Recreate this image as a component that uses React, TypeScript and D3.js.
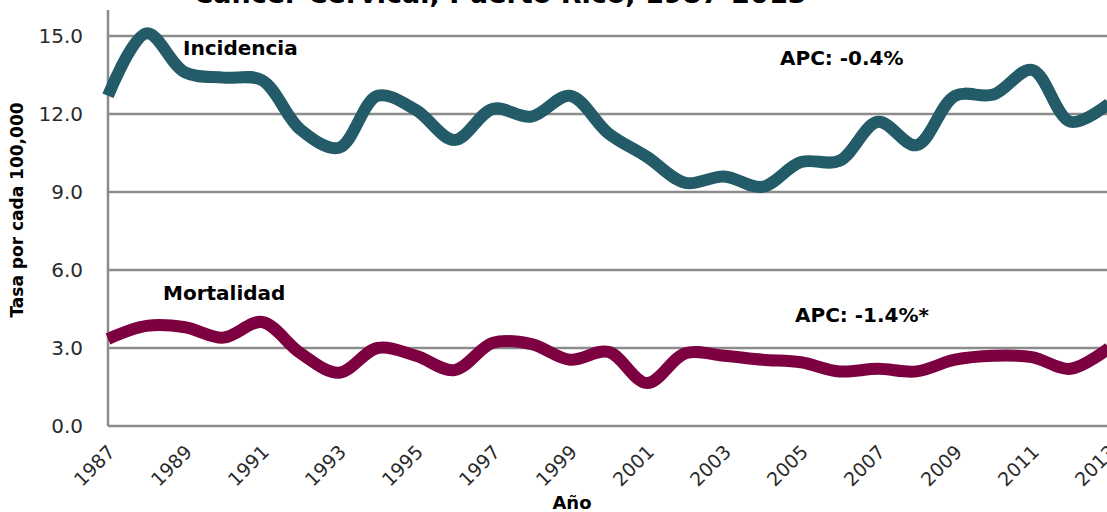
import { useMemo } from "react";
import * as d3 from "d3";

const years = d3.range(1987, 2014);
const incidencia = [
  12.7, 15.1, 13.6, 13.4, 13.3, 11.4, 10.7, 12.7, 12.15, 11.0, 12.2, 11.9, 12.7,
  11.25, 10.35, 9.35, 9.6, 9.2, 10.15, 10.2, 11.7, 10.8, 12.7, 12.75, 13.7, 11.7, 12.4,
];
const mortalidad = [
  3.35, 3.85, 3.8, 3.4, 4.0, 2.8, 2.05, 3.0, 2.7, 2.15, 3.2, 3.15, 2.55, 2.85, 1.65,
  2.8, 2.7, 2.55, 2.45, 2.1, 2.2, 2.1, 2.55, 2.7, 2.65, 2.2, 3.0,
];
const yTicks = [0, 3, 6, 9, 12, 15];
const xTickYears = years.filter((y) => (y - 1987) % 2 === 0);

const title = "Cáncer Cervical, Puerto Rico, 1987-2013";
const yLabel = "Tasa por cada 100,000";
const xLabel = "Año";

export default function App() {
  const width = 1107;
  const height = 512;
  const left = 108;
  const right = 1109;
  const top = 10;
  const bottom = 426;

  const xScale = useMemo(
    () => d3.scaleLinear().domain([1987, 2013]).range([left, right]),
    []
  );
  const yScale = useMemo(
    () => d3.scaleLinear().domain([0, 16]).range([bottom, top]),
    []
  );

  const line = d3
    .line<number>()
    .x((_, i) => xScale(years[i]))
    .y((d) => yScale(d))
    .curve(d3.curveCatmullRom.alpha(0.5));

  const font = "'Century Gothic', 'DejaVu Sans', sans-serif";

  return (
    <svg
      width={width}
      height={height}
      style={{ position: "absolute", left: 0, top: 0, background: "#fff" }}
      fontFamily={font}
    >
      <text x={500} y={3} textAnchor="middle" fontSize={27} fontWeight="bold" fill="#000">
        {title}
      </text>

      {yTicks.map((t) => (
        <g key={`y-${t}`}>
          <line x1={left} x2={width} y1={yScale(t)} y2={yScale(t)} stroke="#8c8c8c" strokeWidth={2.5} />
          <text
            x={left - 25}
            y={yScale(t)}
            textAnchor="end"
            dominantBaseline="central"
            fontSize={20}
            fill="#2a2a2a"
          >
            {t.toFixed(1)}
          </text>
        </g>
      ))}
      <line x1={left} x2={left} y1={top} y2={bottom} stroke="#8c8c8c" strokeWidth={2.5} />

      {xTickYears.map((yr) => (
        <text
          key={`x-${yr}`}
          transform={`translate(${xScale(yr) - 2}, ${bottom + 17}) rotate(-45)`}
          textAnchor="end"
          dominantBaseline="hanging"
          fontSize={19}
          fill="#2a2a2a"
        >
          {yr}
        </text>
      ))}

      <path d={line(incidencia) ?? ""} fill="none" stroke="#235b68" strokeWidth={12} strokeLinejoin="round" />
      <path d={line(mortalidad) ?? ""} fill="none" stroke="#7d0040" strokeWidth={12} strokeLinejoin="round" />

      <text x={183} y={55} fontSize={20} fontWeight="bold" fill="#000">Incidencia</text>
      <text x={163} y={300} fontSize={20} fontWeight="bold" fill="#000">Mortalidad</text>
      <text x={780} y={65} fontSize={20} fontWeight="bold" fill="#000">APC: -0.4%</text>
      <text x={795} y={322} fontSize={20} fontWeight="bold" fill="#000">APC: -1.4%*</text>

      <text x={572} y={509} textAnchor="middle" fontSize={18} fontWeight="bold" fill="#000">
        {xLabel}
      </text>
      <text
        transform={`translate(23, 210) rotate(-90)`}
        textAnchor="middle"
        fontSize={17}
        fontWeight="bold"
        fill="#000"
      >
        {yLabel}
      </text>
    </svg>
  );
}
